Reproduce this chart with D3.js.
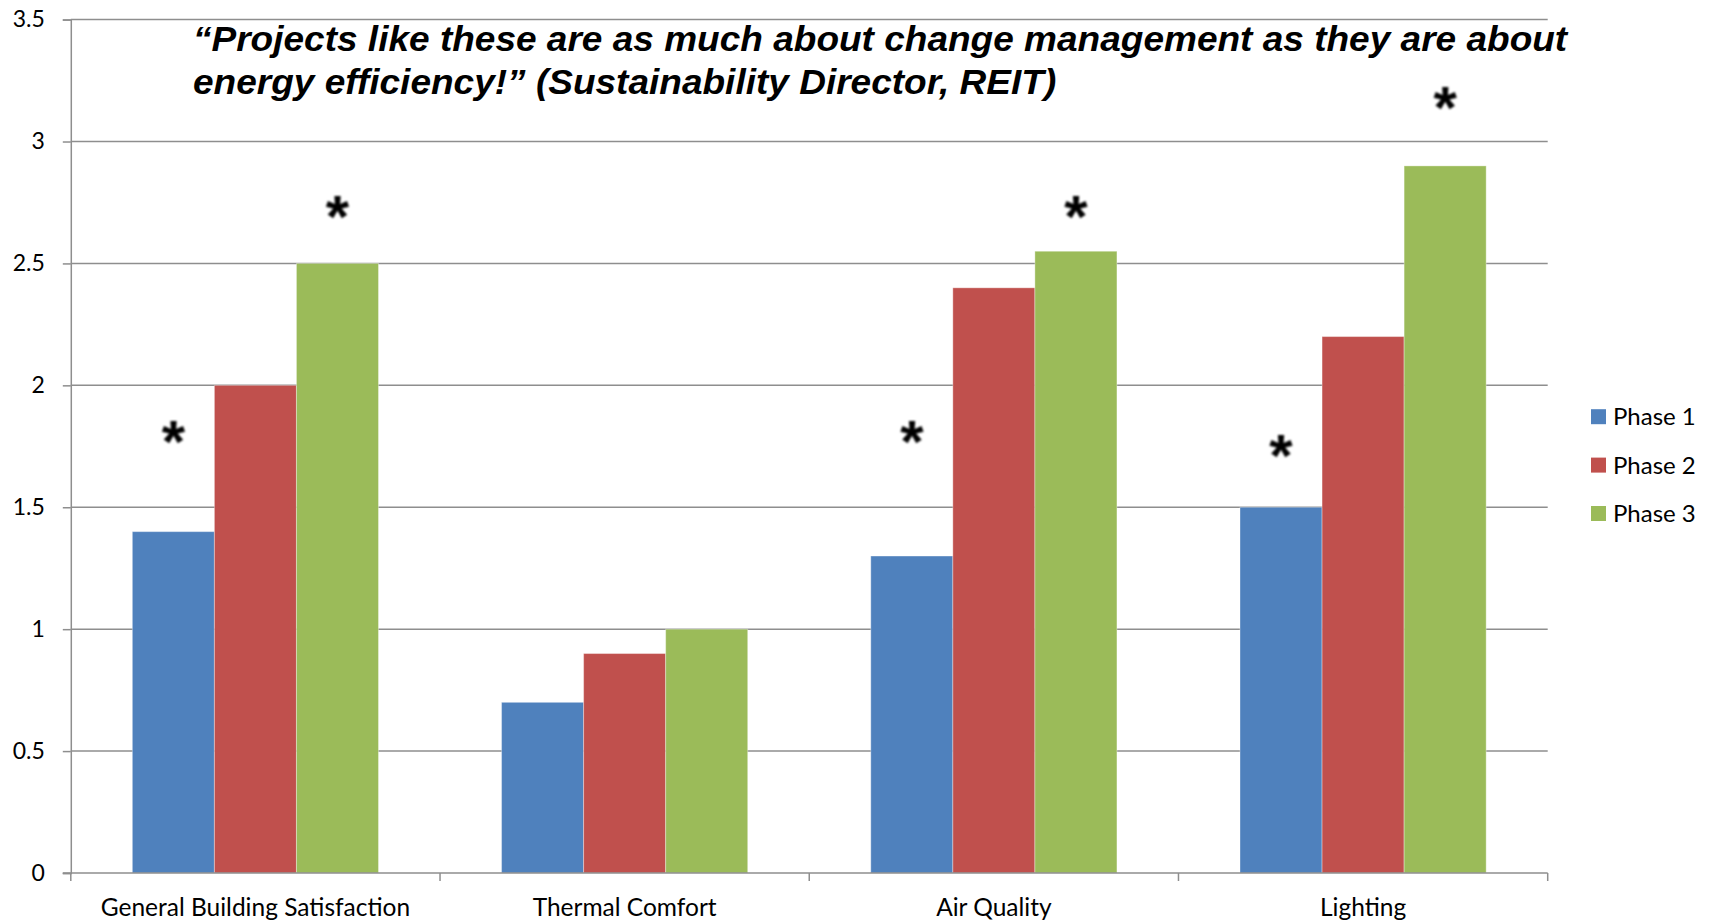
<!DOCTYPE html>
<html>
<head>
<meta charset="utf-8">
<script src="https://cdn.jsdelivr.net/npm/d3@7"></script>
<style>
  html, body { margin: 0; padding: 0; background: #fff; }
  svg { display: block; }
</style>
</head>
<body>
<svg id="chart" width="1709" height="921"></svg>
<script>
const categories = ["General Building Satisfaction", "Thermal Comfort", "Air Quality", "Lighting"];
const seriesNames = ["Phase 1", "Phase 2", "Phase 3"];
const phase1 = [1.4, 0.7, 1.3, 1.5];
const phase2 = [2.0, 0.9, 2.4, 2.2];
const phase3 = [2.5, 1.0, 2.55, 2.9];
const yTicks = [0, 0.5, 1, 1.5, 2, 2.5, 3, 3.5];
const yTickLabels = ["0", "0.5", "1", "1.5", "2", "2.5", "3", "3.5"];
const titleLines = [
  "\u201CProjects like these are as much about change management as they are about",
  "energy efficiency!\u201D (Sustainability Director, REIT)"
];
// significance markers: category, series, value level where the asterisk sits
const starCategories = ["General Building Satisfaction", "General Building Satisfaction", "Air Quality", "Air Quality", "Lighting", "Lighting"];
const starSeries = ["Phase 1", "Phase 3", "Phase 1", "Phase 3", "Phase 1", "Phase 3"];
const starLevels = [1.80, 2.72, 1.80, 2.72, 1.74, 3.17];

const colors = ["#4F81BD", "#C0504D", "#9BBB59"];
const seriesValues = [phase1, phase2, phase3];

const svg = d3.select("#chart");
const pLeft = 70.8, pRight = 1547.7, pTop = 19.6, pBottom = 873;

const y = d3.scaleLinear().domain([0, 3.5]).range([pBottom, pTop]);
const x0 = d3.scaleBand().domain(categories).range([pLeft, pRight]).paddingInner(0).paddingOuter(0);
const x1 = d3.scaleBand().domain(seriesNames).range([0, x0.bandwidth()]).paddingInner(0).paddingOuter(0.75);
const color = d3.scaleOrdinal().domain(seriesNames).range(colors);

const gridColor = "#8e8e8e";
const labelFont = "Lato, 'Open Sans', sans-serif";

// gridlines + y axis
const yAxis = d3.axisLeft(y).tickValues(yTicks).tickFormat((d, i) => yTickLabels[i]).tickSize(8).tickPadding(18);
const gy = svg.append("g").attr("transform", `translate(${pLeft},0)`).call(yAxis);
gy.select(".domain").attr("stroke", gridColor).attr("stroke-width", 1.5);
gy.selectAll(".tick line").attr("stroke", gridColor).attr("stroke-width", 1.5);
gy.selectAll(".tick text").attr("font-family", labelFont).attr("font-size", 23).attr("fill", "#000");

svg.append("g").selectAll("line").data(yTicks.filter(d => d > 0)).join("line")
  .attr("x1", pLeft).attr("x2", pRight)
  .attr("y1", d => y(d)).attr("y2", d => y(d))
  .attr("stroke", gridColor).attr("stroke-width", 1.5);

// bars
const data = [];
categories.forEach((c, ci) => seriesNames.forEach((s, si) => data.push({c, s, v: seriesValues[si][ci]})));
svg.append("g").selectAll("rect").data(data).join("rect")
  .attr("x", d => x0(d.c) + x1(d.s))
  .attr("width", x1.bandwidth())
  .attr("y", d => y(d.v))
  .attr("height", d => y(0) - y(d.v))
  .attr("fill", d => color(d.s))
  .attr("stroke", "rgba(255,255,255,0.35)")
  .attr("stroke-width", 1);

// x axis
const xAxis = d3.axisBottom(x0).tickSize(0).tickPadding(26);
const gx = svg.append("g").attr("transform", `translate(0,${pBottom})`).call(xAxis);
gx.select(".domain").remove();
gx.selectAll(".tick text").attr("font-family", labelFont).attr("font-size", 24.5).attr("fill", "#000");
svg.append("line").attr("x1", pLeft - 8).attr("x2", pRight).attr("y1", pBottom).attr("y2", pBottom)
  .attr("stroke", gridColor).attr("stroke-width", 1.5);
const boundaries = categories.map(c => x0(c)).concat([pRight]);
svg.append("g").selectAll("line").data(boundaries).join("line")
  .attr("x1", d => d).attr("x2", d => d).attr("y1", pBottom).attr("y2", pBottom + 8)
  .attr("stroke", gridColor).attr("stroke-width", 1.5);

// asterisks
const defs = svg.append("defs");
defs.append("filter").attr("id", "soft").append("feGaussianBlur").attr("stdDeviation", 1.3);
svg.append("g").selectAll("text").data(starLevels).join("text")
  .attr("x", (d, i) => x0(starCategories[i]) + x1(starSeries[i]) + x1.bandwidth() / 2)
  .attr("y", d => y(d))
  .attr("dy", "0.46em")
  .attr("text-anchor", "middle")
  .attr("font-family", "'Liberation Sans', Arial, sans-serif")
  .attr("font-weight", "bold")
  .attr("font-size", 60)
  .attr("fill", "#000")
  .attr("filter", "url(#soft)")
  .text("*");

// title
svg.append("g").attr("transform", "translate(193,0) scale(1.058,1)")
  .selectAll("text").data(titleLines).join("text")
  .attr("x", 0)
  .attr("y", (d, i) => 51.5 + i * 43)
  .attr("font-family", "'Liberation Sans', Arial, sans-serif")
  .attr("font-weight", "bold")
  .attr("font-style", "italic")
  .attr("font-size", 35)
  .attr("fill", "#000")
  .text(d => d);

// legend
const legend = svg.append("g");
const lg = legend.selectAll("g").data(seriesNames).join("g")
  .attr("transform", (d, i) => `translate(1591,${416.7 + i * 48.4})`);
lg.append("rect").attr("x", 0).attr("y", -7.5).attr("width", 15).attr("height", 15).attr("fill", d => color(d));
lg.append("text").attr("x", 22).attr("y", 0).attr("dy", "0.36em")
  .attr("font-family", labelFont).attr("font-size", 24).attr("fill", "#000")
  .text(d => d);
</script>
</body>
</html>
